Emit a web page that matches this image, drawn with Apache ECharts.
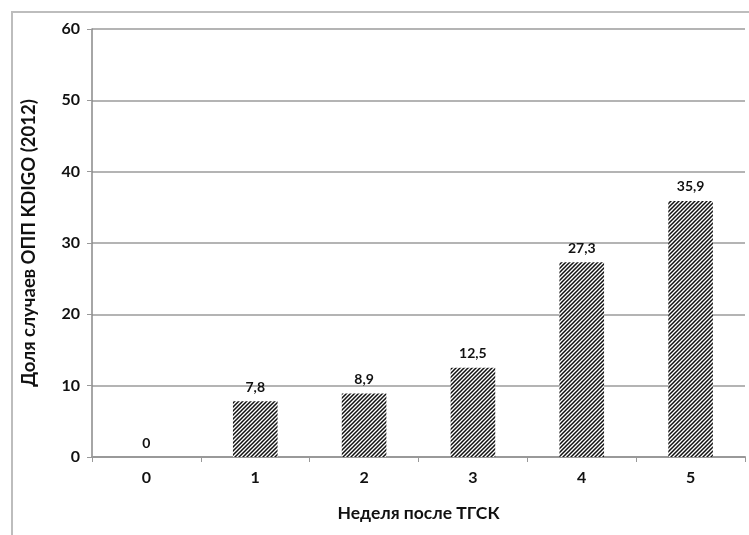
<!DOCTYPE html>
<html>
<head>
<meta charset="utf-8">
<script src="https://cdn.jsdelivr.net/npm/echarts@6/dist/echarts.min.js"></script>
<style>html,body{margin:0;padding:0;background:#fff}#c{width:749px;height:535px}</style>
</head>
<body>
<div id="c"></div>
<script>
const categories = ['0', '1', '2', '3', '4', '5'];
const values = [0, 7.8, 8.9, 12.5, 27.3, 35.9];
const yTicks = [0, 10, 20, 30, 40, 50, 60];

function hatch() {
  const s = 4;
  const cv = document.createElement('canvas');
  cv.width = s; cv.height = s;
  const ctx = cv.getContext('2d');
  ctx.fillStyle = '#fff';
  ctx.fillRect(0, 0, s, s);
  ctx.strokeStyle = '#111';
  ctx.lineWidth = 1.5;
  ctx.beginPath();
  ctx.moveTo(-1, s + 1); ctx.lineTo(s + 1, -1);
  ctx.moveTo(-1, 1); ctx.lineTo(1, -1);
  ctx.moveTo(s - 1, s + 1); ctx.lineTo(s + 1, s - 1);
  ctx.stroke();
  return cv;
}

const chart = echarts.init(document.getElementById('c'));
const font = 'Lato, "Open Sans", sans-serif';
chart.setOption({
  animation: false,
  graphic: [{
    type: 'polyline', silent: true,
    shape: { points: [[12, 540], [12, 12], [760, 12]] },
    style: { stroke: '#bdbdbd', lineWidth: 2, fill: null }
  }],
  grid: { left: 92, top: 29, right: 4, bottom: 78 },
  xAxis: {
    type: 'category', data: categories,
    name: 'Неделя после ТГСК', nameLocation: 'middle', nameGap: 47,
    nameTextStyle: { fontFamily: font, fontWeight: 'bold', fontSize: 17.5, color: '#111' },
    axisLine: { lineStyle: { color: '#999', width: 2 } },
    axisTick: { show: true, alignWithLabel: false, length: 5, lineStyle: { color: '#999' } },
    axisLabel: { fontFamily: font, fontWeight: 'bold', fontSize: 16, color: '#111', margin: 13 }
  },
  yAxis: {
    type: 'value', min: 0, max: 60, interval: 10,
    name: 'Доля случаев ОПП KDIGO (2012)', nameLocation: 'middle', nameGap: 53,
    nameTextStyle: { fontFamily: font, fontWeight: 'bold', fontSize: 18.5, color: '#111' },
    axisLine: { show: true, lineStyle: { color: '#888', width: 1.5 } },
    axisTick: { show: true, length: 5, lineStyle: { color: '#999' } },
    axisLabel: { fontFamily: font, fontWeight: 'bold', fontSize: 16, color: '#111', margin: 12,
      formatter: v => yTicks.includes(v) ? String(v) : '' },
    splitLine: { lineStyle: { color: '#b4b4b4', width: 2 } }
  },
  series: [{
    type: 'bar', data: values, barWidth: '41%',
    itemStyle: { color: { image: hatch(), repeat: 'repeat' } },
    label: { show: true, position: 'top', distance: 7, fontFamily: font, fontWeight: 'bold', fontSize: 14, color: '#111',
      formatter: p => String(p.value).replace('.', ',') }
  }]
});
</script>
</body>
</html>
